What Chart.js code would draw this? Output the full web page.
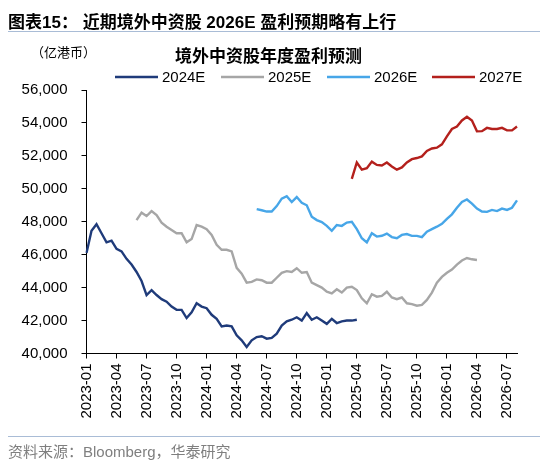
<!DOCTYPE html>
<html><head><meta charset="utf-8">
<script src="https://cdn.jsdelivr.net/npm/chart.js@4.4.1/dist/chart.umd.min.js"></script>
<style>
html,body{margin:0;padding:0;background:#fff;}
#wrap{position:relative;width:550px;height:464px;overflow:hidden;background:#fff;}
#c{position:absolute;left:0;top:0;}
.t{position:absolute;white-space:nowrap;}
</style></head><body>
<div id="wrap">
<canvas id="c" width="550" height="464"></canvas>
<div class="t" style="left:8px;top:8px;font:bold 17px 'Liberation Sans','Noto Sans CJK SC';color:#000;">图表15：&nbsp;近期境外中资股 2026E 盈利预期略有上行</div>
<div style="position:absolute;left:8px;top:31px;width:532px;height:1px;background:#a9bcd6"></div>
<div class="t" style="left:31px;top:42px;font:13px 'Noto Sans CJK SC';color:#000;">（亿港币）</div>
<div class="t" style="left:175px;top:42px;font:bold 17px 'Noto Sans CJK SC';color:#000;">境外中资股年度盈利预测</div>
<div style="position:absolute;left:8px;top:436px;width:532px;height:1px;background:#a9bcd6"></div>
<div class="t" style="left:8px;top:440px;font:15px 'Liberation Sans','Noto Sans CJK SC';color:#7f7f7f;">资料来源：Bloomberg，华泰研究</div>
</div>
<script>
// ---- data ----
const categories = [];
for (let y = 2023; y <= 2026; y++) {
  for (let m = 1; m <= 12; m++) {
    const mm = String(m).padStart(2, '0');
    if (y === 2026 && m > 8) break;
    categories.push(`${y}-${mm}-01`);
    if (!(y === 2026 && m === 8)) categories.push(`${y}-${mm}-16`);
  }
}
const tickLabels = ['2023-01','2023-04','2023-07','2023-10','2024-01','2024-04','2024-07','2024-10',
                    '2025-01','2025-04','2025-07','2025-10','2026-01','2026-04','2026-07'];
const seriesNames = ['2024E','2025E','2026E','2027E'];
const start2024 = '2023-01-01';
const values2024 = [46100,47450,47850,47300,46750,46850,46350,46200,45750,45400,44950,44400,43550,43850,43550,43300,43150,42850,42650,42650,42150,42500,43050,42850,42750,42350,42100,41650,41700,41650,41100,40800,40400,40800,41000,41050,40900,40950,41200,41700,41950,42050,42200,42000,42450,42050,42200,42000,41800,42100,41850,41950,42000,42000,42050];
const start2025 = '2023-06-01';
const values2025 = [48100,48550,48350,48650,48400,47950,47700,47500,47300,47300,46750,46950,47800,47700,47550,47200,46600,46300,46300,46200,45200,44850,44300,44350,44500,44450,44300,44300,44600,44900,45000,44950,45180,44900,44950,44300,44150,44000,43750,43650,43900,43700,44000,44050,43850,43350,43050,43600,43450,43500,43750,43400,43300,43400,43050,43000,42900,42950,43250,43700,44300,44650,44900,45100,45400,45650,45800,45720,45680];
const start2026 = '2024-06-01';
const values2026 = [48770,48700,48620,48620,48950,49400,49550,49200,49500,49150,49000,48300,48100,47980,47750,47450,47800,47750,47950,48000,47550,47000,46750,47300,47100,47150,47280,47070,47000,47200,47250,47140,47140,47070,47400,47550,47700,47870,48180,48450,48850,49200,49350,49100,48800,48620,48600,48720,48650,48800,48720,48850,49300];
const start2027 = '2025-03-16';
const values2027 = [50600,51600,51160,51250,51650,51450,51420,51600,51360,51160,51300,51600,51800,51870,51970,52300,52450,52500,52700,53180,53630,53780,54150,54380,54150,53490,53500,53700,53630,53630,53700,53550,53550,53780];
const yMin = 40000, yMax = 56000, yStep = 2000;

function place(start, vals) {
  const arr = new Array(categories.length).fill(null);
  const s = categories.indexOf(start);
  vals.forEach((v, i) => { if (s + i < arr.length) arr[s + i] = v; });
  return arr;
}
const colors = ['#1f3b7a', '#a6a6a6', '#47a6e8', '#b4201c'];
const allValues = [values2024, values2025, values2026, values2027];
const allStarts = [start2024, start2025, start2026, start2027];

const legendPlugin = {
  id: 'customLegend',
  afterDraw(chart) {
    const ctx = chart.ctx;
    const xs = [115, 221, 327, 432];
    const y = 77;
    ctx.save();
    ctx.font = "15px 'Liberation Sans', Arial, sans-serif";
    ctx.textBaseline = 'middle';
    ctx.fillStyle = '#000';
    chart.data.datasets.forEach((ds, i) => {
      ctx.strokeStyle = ds.borderColor;
      ctx.lineWidth = 2.5;
      ctx.beginPath();
      ctx.moveTo(xs[i], y);
      ctx.lineTo(xs[i] + 43, y);
      ctx.stroke();
      ctx.fillText(ds.label, xs[i] + 47, y + 0.5);
    });
    ctx.restore();
  }
};

new Chart(document.getElementById('c'), {
  type: 'line',
  data: {
    labels: categories,
    datasets: seriesNames.map((n, i) => ({
      label: n,
      data: place(allStarts[i], allValues[i]),
      borderColor: colors[i],
      backgroundColor: colors[i],
      borderWidth: 2.4,
      pointRadius: 0,
      tension: 0,
      spanGaps: false,
      fill: false
    }))
  },
  options: {
    responsive: false,
    animation: false,
    devicePixelRatio: 1,
    layout: { padding: { left: 0, right: 33, top: 90, bottom: 38.5 } },
    plugins: { legend: { display: false }, title: { display: false }, tooltip: { enabled: false } },
    scales: {
      x: {
        type: 'category',
        offset: false,
        grid: { display: true, drawOnChartArea: false, drawTicks: true, tickLength: 5, color: '#000' },
        border: { display: true, color: '#000', width: 1 },
        afterBuildTicks: (scale) => {
          scale.ticks = scale.ticks.filter(t => {
            const lab = categories[t.value];
            return lab.endsWith('-01') && tickLabels.includes(lab.slice(0, 7));
          });
        },
        afterFit: (scale) => { scale.height = 72; },
        ticks: {
          autoSkip: false, minRotation: 90, maxRotation: 90, padding: 5,
          color: '#000',
          font: { family: "'Liberation Sans', Arial, sans-serif", size: 15 },
          callback: function (value) { return categories[value].slice(0, 7); }
        }
      },
      y: {
        min: yMin, max: yMax,
        grid: { display: true, drawOnChartArea: false, drawTicks: true, tickLength: 5, color: '#000' },
        border: { display: true, color: '#000', width: 1 },
        afterFit: (scale) => { scale.width = 86.5; },
        ticks: {
          stepSize: yStep, padding: 14, color: '#000',
          font: { family: "'Liberation Sans', Arial, sans-serif", size: 15 },
          callback: (v) => v.toLocaleString('en-US')
        }
      }
    }
  },
  plugins: [legendPlugin]
});
</script>
</body></html>
